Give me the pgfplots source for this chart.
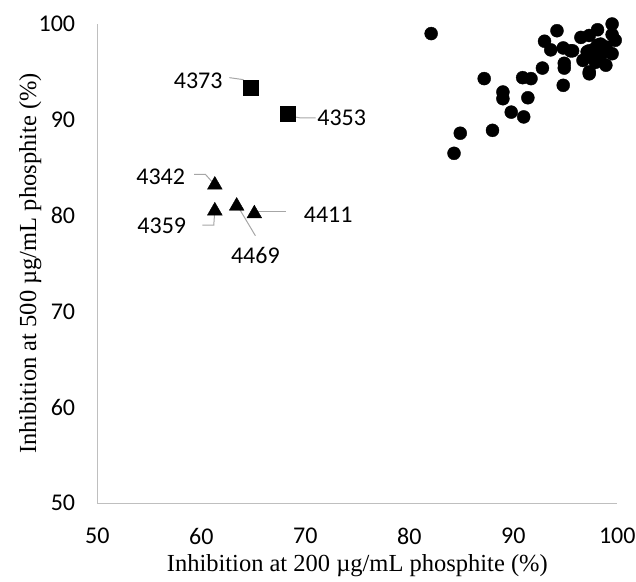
\documentclass[border=0pt]{standalone}
\usepackage{fontspec}
\setmainfont{Carlito}
\newfontfamily\timesfont{Liberation Serif}
\usepackage{pgfplots}
\pgfplotsset{compat=1.18}
\definecolor{axgray}{RGB}{191,191,191}
\definecolor{leadgray}{RGB}{166,166,166}
\begin{document}
\begin{tikzpicture}
\begin{axis}[
  at={(0,0)}, anchor=south west,
  scale only axis,
  width=520pt, height=479pt,
  xmin=50, xmax=100, ymin=50, ymax=100,
  xtick={50,60,...,100}, ytick={50,60,...,100},
  axis lines*=left,
  axis line style={axgray, line width=1pt},
  major tick length=0pt,
  /pgf/number format/assume math mode=true,
  tick label style={font=\fontsize{24}{26}\selectfont, inner sep=0pt},
  xticklabel style={anchor=north, yshift=-25pt},
  yticklabel style={anchor=east, xshift=-22pt},
  xlabel={\timesfont\fontsize{24.5}{27}\selectfont Inhibition at 200 µg/mL phosphite (\%)},
  ylabel={\timesfont\fontsize{24.5}{27}\selectfont Inhibition at 500 µg/mL phosphite (\%)},
  xlabel style={at={([yshift=-63pt]axis description cs:0.5,0)}, anchor=center, inner sep=0pt},
  ylabel style={at={([xshift=-67pt]axis description cs:0,0.5)}, anchor=center, inner sep=0pt},
  clip=false,
]
\addplot[only marks, mark=*, mark size=6.5pt, black] coordinates {
(82.1,99.0) (84.3,86.5) (84.9,88.6) (87.2,94.3) (88.0,88.9) (89.0,92.9)
(89.0,92.2) (89.8,90.8) (90.9,94.4) (91.0,90.3) (91.4,92.3) (91.7,94.3)
(92.8,95.4) (93.0,98.2) (93.6,97.3) (94.2,99.3) (94.8,97.5) (94.8,93.6)
(94.9,95.9) (94.9,95.4) (95.5,97.2) (95.7,97.2) (96.5,98.6) (97.3,98.8)
(98.1,99.4) (99.5,100.0) (99.5,98.9) (99.8,98.3) (96.7,96.2) (97.3,97.2)
(97.6,96.5) (98.2,96.2) (98.4,97.9) (98.9,95.7) (98.9,97.6) (97.3,95.0)
(97.3,94.8) (98.4,96.7) (97.1,97.1) (98.1,97.8) (97.9,96.0) (99.5,96.9)
(99.0,97.2) (97.8,97.4)
};
\addplot[only marks, mark=square*, mark size=7.5pt, black] coordinates {
(64.75,93.3) (68.3,90.6)
};
\addplot[only marks, mark=triangle*, mark size=8.5pt, black] coordinates {
(61.3,83.2) (61.3,80.5) (63.4,81.0) (65.1,80.2)
};
% leader lines
\draw[leadgray, line width=1pt] (62.7,94.4) -- (64.0,94.2) -- (64.75,93.3);
\draw[leadgray, line width=1pt] (68.4,90.4) -- (69.5,90.2) -- (71.0,90.2);
\draw[leadgray, line width=1pt] (59.3,84.3) -- (60.4,84.3) -- (61.3,83.2);
\draw[leadgray, line width=1pt] (60.1,79.0) -- (61.2,79.0) -- (61.3,80.6);
\draw[leadgray, line width=1pt] (65.2,77.9) -- (63.5,81.0);
\draw[leadgray, line width=1pt] (68.1,80.4) -- (65.2,80.4);
% labels
\begin{scope}[every node/.style={font=\fontsize{24}{26}\selectfont, inner sep=0pt}]
\node at (59.7,94.1) {4373};
\node at (73.5,90.2) {4353};
\node at (56.1,84.1) {4342};
\node at (56.2,78.9) {4359};
\node at (65.2,75.8) {4469};
\node at (72.2,80.1) {4411};
\end{scope}
\end{axis}
\pgfresetboundingbox
\path[use as bounding box] (-97.3pt,-78pt) rectangle (538.7pt,503pt);
\end{tikzpicture}
\end{document}
